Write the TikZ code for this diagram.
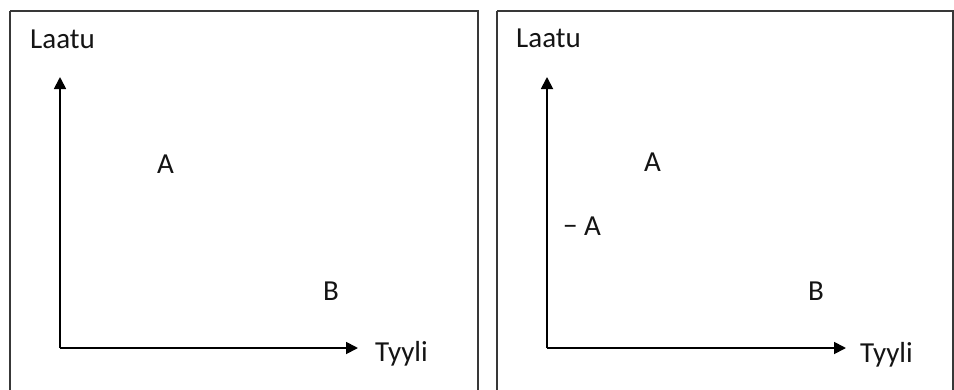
\documentclass[tikz,border=0pt]{standalone}
\usepackage{fontspec}
\setmainfont{Carlito}
\usetikzlibrary{arrows.meta}
\begin{document}
\begin{tikzpicture}[x=1pt,y=-1pt,
  frame/.style={draw=black!78,line width=2pt},
  axis/.style={draw=black,line width=1.8pt,-{Triangle[length=12pt,width=12pt]}},
  lbl/.style={anchor=base west,inner sep=0pt,text=black!92,font=\fontsize{29}{34}\selectfont}]
\useasboundingbox (0,0) rectangle (954,389);
\fill[white] (0,0) rectangle (954,389);
% frames
\draw[frame] (10,11) -- (478,11) -- (478,400) (10,11) -- (10,400);
\draw[frame] (497,11) -- (953,11) -- (953,400) (497,11) -- (497,400);
% left panel
\coordinate (o1) at (60,348);
\coordinate (y1) at (60,77);
\coordinate (x1) at (358,348);
\draw[axis] (o1) -- (y1);
\draw[axis] (o1) -- (x1);
\node[lbl] (laatu1) at (30,48) {Laatu};
\node[lbl] (tyyli1) at (375,361) {Tyyli};
\node[lbl] (a1) at (157,173) {A};
\node[lbl] (b1) at (323,300) {B};
% right panel
\coordinate (o2) at (547,348);
\coordinate (y2) at (547,77);
\coordinate (x2) at (846,348);
\draw[axis] (o2) -- (y2);
\draw[axis] (o2) -- (x2);
\node[lbl] (laatu2) at (516,47) {Laatu};
\node[lbl] (tyyli2) at (860,362) {Tyyli};
\node[lbl] (a2) at (644,171) {A};
\node[lbl] (na2) at (563,235) {− A};
\node[lbl] (b2) at (808,300) {B};
\end{tikzpicture}
\end{document}
